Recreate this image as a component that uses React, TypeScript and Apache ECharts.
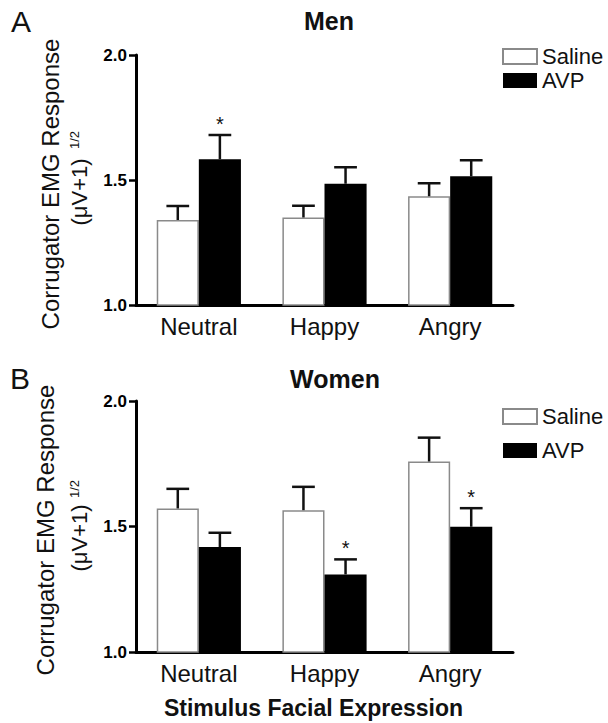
import React, { useEffect, useRef } from "react";
import * as echarts from "echarts";

const categories = ["Neutral", "Happy", "Angry"];
const yTicks = [1.0, 1.5, 2.0];

const menSaline = [1.34, 1.35, 1.435];
const menSalineErr = [0.056, 0.047, 0.052];
const menAVP = [1.583, 1.485, 1.515];
const menAVPErr = [0.097, 0.066, 0.064];
const menAVPSig = [true, false, false];

const womenSaline = [1.572, 1.565, 1.759];
const womenSalineErr = [0.078, 0.093, 0.095];
const womenAVP = [1.418, 1.309, 1.499];
const womenAVPErr = [0.057, 0.06, 0.074];
const womenAVPSig = [false, true, true];

const FONT = "'Liberation Sans', Arial, Helvetica, sans-serif";

function errData(saline: number[], salineErr: number[], avp: number[], avpErr: number[], sig: boolean[]) {
  const out: number[][] = [];
  categories.forEach((_, i) => {
    out.push([i, saline[i], salineErr[i], -1, 0]);
    out.push([i, avp[i], avpErr[i], 1, sig[i] ? 1 : 0]);
  });
  return out;
}

const renderErr = (params: any, api: any) => {
  const cat = api.value(0);
  const v = api.value(1);
  const e = api.value(2);
  const side = api.value(3);
  const sig = api.value(4);
  const p = api.coord([cat, v]);
  const pt = api.coord([cat, v + e]);
  const band = api.size([1, 0])[0];
  const bw = (band * 0.67) / 2;
  const x = p[0] + (side * bw) / 2;
  const cap = bw * 0.27;
  const children: any[] = [
    { type: "line", shape: { x1: x, y1: p[1], x2: x, y2: pt[1] }, style: { stroke: "#111", lineWidth: 2.5 } },
    { type: "line", shape: { x1: x - cap, y1: pt[1], x2: x + cap, y2: pt[1] }, style: { stroke: "#111", lineWidth: 2.5 } },
  ];
  if (sig) {
    children.push({
      type: "text",
      x: x,
      y: pt[1] - 11,
      style: { text: "*", fontSize: 20, fontFamily: FONT, fill: "#111", align: "center", verticalAlign: "middle" },
    });
  }
  return { type: "group", children };
};

export default function App() {
  const ref = useRef<HTMLDivElement>(null);
  useEffect(() => {
    if (!ref.current) return;
    const chart = echarts.init(ref.current, undefined, { renderer: "svg" });
    const yAxisCommon = (gi: number) => ({
      type: "value",
      gridIndex: gi,
      min: yTicks[0],
      max: yTicks[yTicks.length - 1],
      interval: 0.5,
      splitLine: { show: false },
      axisLine: { show: true, lineStyle: { color: "#000", width: 3 } },
      axisTick: { show: true, length: 7, lineStyle: { color: "#000", width: 2.5 } },
      axisLabel: {
        fontSize: 17,
        fontWeight: "bold",
        fontFamily: FONT,
        color: "#000",
        margin: 9,
        formatter: (v: number) => v.toFixed(1),
      },
    });
    const xAxisCommon = (gi: number, name?: string) => ({
      type: "category",
      gridIndex: gi,
      data: categories,
      axisLine: { show: true, lineStyle: { color: "#000", width: 3 } },
      axisTick: { show: false },
      axisLabel: { fontSize: 24, fontFamily: FONT, color: "#111", margin: 9 },
      name: name || "",
      nameLocation: "middle",
      nameGap: 44,
      nameTextStyle: { fontSize: 23, fontWeight: "bold", fontFamily: FONT, color: "#111", padding: [0, 22, 0, 0] },
    });
    const salineStyle = { color: "#fff", borderColor: "#8a8a8a", borderWidth: 1.5 };
    const avpStyle = { color: "#000", borderColor: "#000", borderWidth: 0 };
    const legendCommon = {
      data: ["Saline", "AVP"],
      orient: "vertical",
      left: 502,
      itemWidth: 34,
      itemHeight: 15,
      icon: "rect",
      padding: 0,
      textStyle: { fontSize: 22, fontFamily: FONT, color: "#111", lineHeight: 18 },
      selectedMode: false,
    };
    const ylabel = (cx1: number, cy1: number, cx2: number, cy2: number, cxs: number, cys: number) => [
      {
        type: "text",
        x: cx1,
        y: cy1,
        rotation: Math.PI / 2,
        style: { text: "Corrugator EMG Response", fontSize: 24, fontFamily: FONT, fill: "#111", align: "center", verticalAlign: "middle" },
      },
      {
        type: "text",
        x: cx2,
        y: cy2,
        rotation: Math.PI / 2,
        style: { text: "(μV+1)", fontSize: 22, fontFamily: FONT, fill: "#111", align: "center", verticalAlign: "middle" },
      },
      {
        type: "text",
        x: cxs,
        y: cys,
        rotation: Math.PI / 2,
        style: { text: "1/2", fontSize: 13, fontFamily: FONT, fill: "#111", align: "center", verticalAlign: "middle" },
      },
    ];
    chart.setOption({
      animation: false,
      backgroundColor: "#fff",
      grid: [
        { left: 136, right: 95, top: 55, height: 250 },
        { left: 136, right: 95, top: 401, height: 251 },
      ],
      xAxis: [xAxisCommon(0), xAxisCommon(1, "Stimulus Facial Expression")],
      yAxis: [yAxisCommon(0), yAxisCommon(1)],
      legend: [
        { ...legendCommon, top: 45.5, itemGap: 2 },
        { ...legendCommon, top: 405.5, itemGap: 12 },
      ],
      series: [
        { name: "Saline", type: "bar", xAxisIndex: 0, yAxisIndex: 0, data: menSaline, itemStyle: salineStyle, barGap: "0%", barCategoryGap: "33%" },
        { name: "AVP", type: "bar", xAxisIndex: 0, yAxisIndex: 0, data: menAVP, itemStyle: avpStyle, barGap: "0%", barCategoryGap: "33%" },
        { name: "Saline", type: "bar", xAxisIndex: 1, yAxisIndex: 1, data: womenSaline, itemStyle: salineStyle, barGap: "0%", barCategoryGap: "33%" },
        { name: "AVP", type: "bar", xAxisIndex: 1, yAxisIndex: 1, data: womenAVP, itemStyle: avpStyle, barGap: "0%", barCategoryGap: "33%" },
        {
          name: "errMen",
          type: "custom",
          xAxisIndex: 0,
          yAxisIndex: 0,
          data: errData(menSaline, menSalineErr, menAVP, menAVPErr, menAVPSig),
          renderItem: renderErr,
          z: 5,
        },
        {
          name: "errWomen",
          type: "custom",
          xAxisIndex: 1,
          yAxisIndex: 1,
          data: errData(womenSaline, womenSalineErr, womenAVP, womenAVPErr, womenAVPSig),
          renderItem: renderErr,
          z: 5,
        },
      ],
      graphic: [
        { type: "text", x: 21, y: 21, style: { text: "A", fontSize: 30, fontFamily: FONT, fill: "#111", align: "center", verticalAlign: "middle" } },
        { type: "text", x: 20, y: 378, style: { text: "B", fontSize: 30, fontFamily: FONT, fill: "#111", align: "center", verticalAlign: "middle" } },
        { type: "text", x: 329, y: 21, style: { text: "Men", fontSize: 25, fontWeight: "bold", fontFamily: FONT, fill: "#111", align: "center", verticalAlign: "middle" } },
        { type: "text", x: 335, y: 379, style: { text: "Women", fontSize: 25, fontWeight: "bold", fontFamily: FONT, fill: "#111", align: "center", verticalAlign: "middle" } },
        ...ylabel(50, 184, 79, 192, 74, 140),
        ...ylabel(45, 530, 79, 538, 74, 489),
      ],
    });
    return () => chart.dispose();
  }, []);
  return (
    <div
      ref={ref}
      style={{ position: "absolute", left: 0, top: 0, width: 608, height: 723, background: "#fff" }}
    />
  );
}
